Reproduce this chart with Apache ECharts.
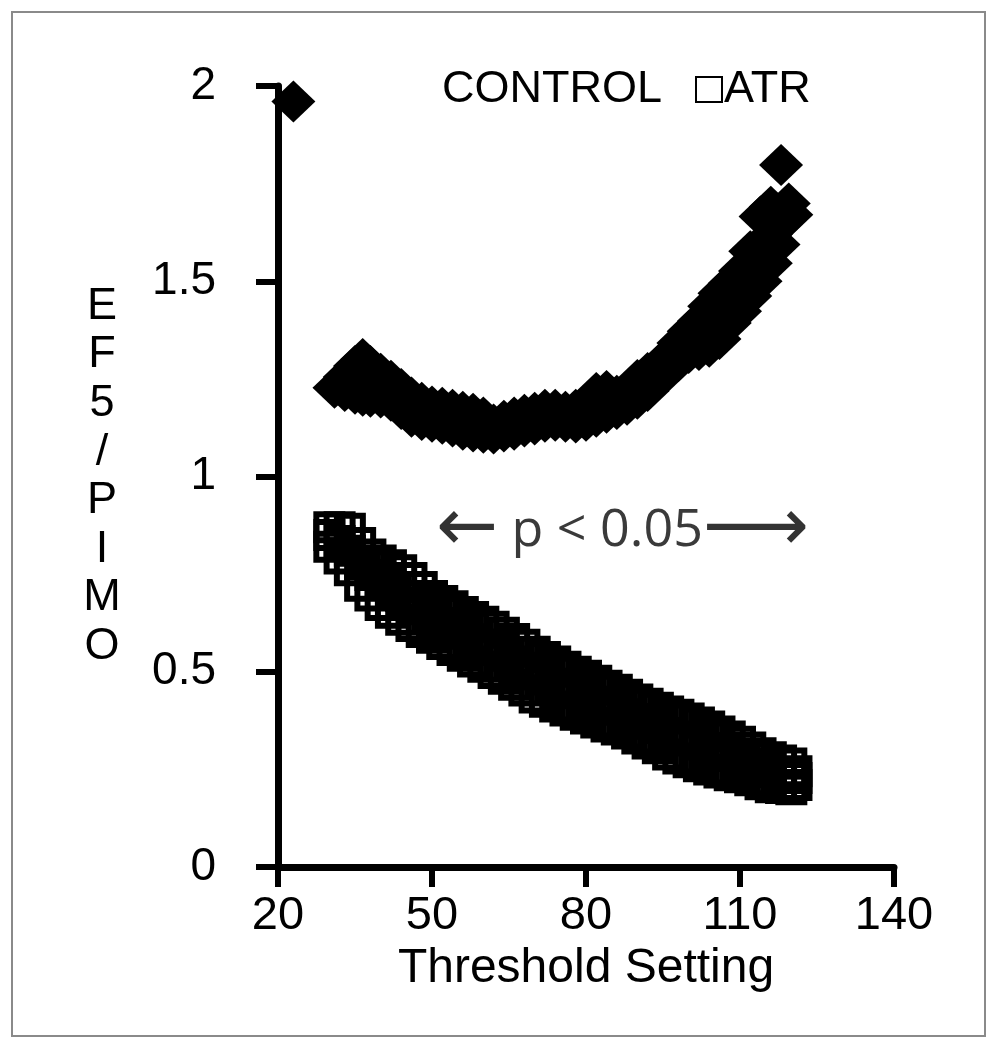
<!DOCTYPE html>
<html>
<head>
<meta charset="utf-8">
<script src="https://cdn.jsdelivr.net/npm/echarts@6/dist/echarts.min.js"></script>
<style>
  html, body { margin: 0; padding: 0; background: #fff; }
  #main { width: 996px; height: 1050px; }
</style>
</head>
<body>
<div id="main"></div>
<script>
// x axis tick labels
var xTicks = [20, 50, 80, 110, 140];

// CONTROL: upper / lower edge of the diamond band, extra points where the band is wide
var ctrlX   = [23,   31,    33,    35,    36.5,  38,    40,    42,    44,    46,    48,    50,    52,    54,    56,    58,    60,    62,    64,    66,    68,    70,    72,    74,    76,    78,    80,    82,    84,    86,    88,    90,    92,    94,    96,    98,    100,   102,   104,   106,   108,   110,   112,   114,   116,   117.5, 118,   119.5, 120];
var ctrlHi  = [1.96, 1.227, 1.255, 1.283, 1.301, 1.283, 1.263, 1.245, 1.224, 1.202, 1.189, 1.179, 1.176, 1.171, 1.166, 1.161, 1.151, 1.133, 1.143, 1.151, 1.158, 1.163, 1.171, 1.171, 1.166, 1.171, 1.186, 1.214, 1.219, 1.207, 1.219, 1.247, 1.265, 1.283, 1.309, 1.342, 1.372, 1.398, 1.436, 1.469, 1.495, 1.526, 1.577, 1.666, 1.691, null,  1.798, 1.699, null];
var ctrlMid = [null, null,  null,  null,  null,  null,  null,  null,  null,  null,  null,  null,  null,  null,  null,  null,  null,  null,  null,  null,  null,  null,  null,  null,  null,  null,  null,  null,  null,  null,  null,  null,  null,  null,  null,  null,  null,  null,  1.385, 1.410, 1.445, 1.475, 1.520, 1.580, 1.620, 1.640, null,  null,  null];
var ctrlLo  = [null, null,  1.219, 1.212, 1.207, 1.204, 1.202, 1.194, 1.173, 1.153, 1.145, 1.140, 1.135, 1.128, 1.120, 1.115, 1.112, 1.110, 1.115, 1.120, 1.128, 1.133, 1.140, 1.143, 1.140, 1.138, 1.143, 1.153, 1.163, 1.173, 1.184, 1.199, 1.219, 1.250, 1.270, 1.296, 1.316, 1.324, 1.332, 1.352, 1.393, 1.423, 1.462, 1.500, 1.546, 1.594, null,  null,  1.670];

// ATR: upper / middle / lower rows of the square band
var atrX   = [30,    32,    34,    36,    38,    40,    42,    44,    46,    48,    50,    52,    54,    56,    58,    60,    62,    64,    66,    68,    70,    72,    74,    76,    78,    80,    82,    84,    86,    88,    90,    92,    94,    96,    98,    100,   102,   104,   106,   108,   110,   112,   114,   116,   118,   120,   121];
var atrHi  = [0.870, 0.870, 0.866, 0.830, 0.800, 0.785, 0.773, 0.760, 0.740, 0.717, 0.694, 0.681, 0.668, 0.653, 0.640, 0.628, 0.615, 0.600, 0.584, 0.569, 0.551, 0.538, 0.526, 0.513, 0.500, 0.490, 0.477, 0.464, 0.454, 0.441, 0.429, 0.418, 0.408, 0.398, 0.390, 0.380, 0.370, 0.360, 0.347, 0.334, 0.321, 0.306, 0.291, 0.281, 0.273, 0.265, 0.245];
var atrMid = [0.850, 0.835, 0.810, 0.775, 0.748, 0.728, 0.710, 0.694, 0.676, 0.660, 0.641, 0.625, 0.612, 0.597, 0.583, 0.570, 0.556, 0.541, 0.526, 0.510, 0.493, 0.480, 0.469, 0.457, 0.445, 0.436, 0.423, 0.412, 0.403, 0.391, 0.379, 0.367, 0.356, 0.343, 0.334, 0.324, 0.314, 0.305, 0.295, 0.284, 0.276, 0.264, 0.252, 0.243, 0.238, 0.232, 0.228];
var atrLo  = [0.820, 0.790, 0.760, 0.720, 0.695, 0.671, 0.651, 0.633, 0.617, 0.602, 0.587, 0.571, 0.556, 0.541, 0.526, 0.513, 0.497, 0.482, 0.467, 0.452, 0.434, 0.423, 0.411, 0.401, 0.390, 0.380, 0.370, 0.360, 0.352, 0.342, 0.329, 0.316, 0.304, 0.288, 0.278, 0.268, 0.258, 0.250, 0.242, 0.235, 0.230, 0.222, 0.212, 0.204, 0.202, 0.199, 0.210];

function rows(xs) {
  var out = [];
  for (var r = 1; r < arguments.length; r++) {
    var ys = arguments[r];
    for (var i = 0; i < xs.length; i++) {
      if (ys[i] != null) out.push([xs[i], ys[i]]);
    }
  }
  return out;
}

var font = "'Liberation Sans', Arial, Helvetica, sans-serif";
var chart = echarts.init(document.getElementById('main'));

var option = {
  animation: false,
  backgroundColor: '#fff',
  grid: { left: 278, right: 102, top: 86, bottom: 183, containLabel: false },
  xAxis: {
    type: 'value',
    min: 20,
    max: 140,
    name: 'Threshold Setting',
    nameLocation: 'middle',
    nameGap: 68,
    nameTextStyle: { fontFamily: font, fontSize: 48, color: '#000' },
    splitLine: { show: false },
    axisLine: { lineStyle: { color: '#000', width: 7 } },
    axisTick: { customValues: xTicks, length: 20, lineStyle: { color: '#000', width: 6 } },
    axisLabel: { customValues: xTicks, margin: 26, fontFamily: font, fontSize: 47, color: '#000' }
  },
  yAxis: {
    type: 'value',
    min: 0,
    max: 2,
    interval: 0.5,
    name: 'E\nF\n5\n/\nP\nI\nM\nO',
    nameLocation: 'middle',
    nameRotate: 0,
    nameGap: 176,
    nameTextStyle: { fontFamily: font, fontSize: 45, lineHeight: 48.6, color: '#000', align: 'center', padding: [0, 0, 22, 0] },
    splitLine: { show: false },
    axisLine: { onZero: false, lineStyle: { color: '#000', width: 7 } },
    axisTick: { length: 22, lineStyle: { color: '#000', width: 6 } },
    axisLabel: { margin: 62, fontFamily: font, fontSize: 46, color: '#000', padding: [8, 0, 0, 0] }
  },
  legend: [
    {
      data: [{ name: 'CONTROL', icon: 'none' }],
      left: 432, top: 62,
      itemWidth: 0, itemHeight: 25, itemGap: 0,
      textStyle: { fontFamily: font, fontSize: 45, color: '#000' }
    },
    {
      data: [{ name: 'ATR', icon: 'rect' }],
      left: 690, top: 62,
      itemWidth: 26, itemHeight: 25,
      itemStyle: { color: '#fff', borderColor: '#000', borderWidth: 2, opacity: 1 },
      textStyle: { fontFamily: font, fontSize: 45, color: '#000', padding: [0, 0, 0, -3] }
    }
  ],
  graphic: [
    {
      type: 'rect',
      shape: { x: 12, y: 12, width: 973, height: 1024 },
      style: { fill: 'none', stroke: '#8a8a8a', lineWidth: 2 },
      silent: true
    },
    {
      type: 'text',
      left: 436, top: 494,
      style: {
        rich: {
          a: { fontFamily: "'DejaVu Sans', sans-serif", fontSize: 74, fill: '#333', verticalAlign: 'middle' },
          t: { fontFamily: "'Open Sans', 'DejaVu Sans', sans-serif", fontSize: 52, fill: '#3a3a3a', verticalAlign: 'middle' }
        },
        text: '{a|\u2190}{t| p < 0.05}{a|\u27F6}'
      }
    }
  ],
  series: [
    {
      name: 'CONTROL',
      type: 'scatter',
      symbol: 'diamond',
      symbolSize: [44, 42],
      itemStyle: { color: '#000', opacity: 1 },
      data: rows(ctrlX, ctrlHi, ctrlMid, ctrlLo)
    },
    {
      name: 'ATR',
      type: 'scatter',
      symbol: 'rect',
      symbolSize: 26,
      itemStyle: { color: 'rgba(0,0,0,0)', borderColor: '#000', borderWidth: 6, opacity: 1 },
      data: rows(atrX, atrHi, atrMid, atrLo)
    }
  ]
};

chart.setOption(option);
</script>
</body>
</html>
